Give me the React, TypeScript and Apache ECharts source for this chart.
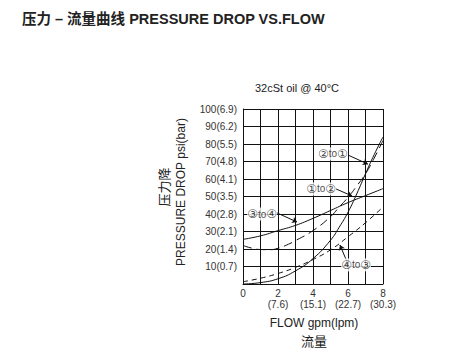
import React, { useEffect, useRef } from "react";
import * as echarts from "echarts";

const xTickLabels = ["0", "", "2\n(7.6)", "", "4\n(15.1)", "", "6\n(22.7)", "", "8\n(30.3)"];
const yTickLabels = ["", "10(0.7)", "20(1.4)", "30(2.1)", "40(2.8)", "50(3.5)", "60(4.1)", "70(4.8)", "80(5.5)", "90(6.2)", "100(6.9)"];

// flow (gpm), pressure drop (psi)
const curve3to4 = [[0, 25.5], [1, 27.5], [2, 30.5], [3, 33.5], [4, 37.5], [5, 42], [6, 46.5], [7, 50.5], [8, 54.5]];
const curve4to3 = [[0, 1.3], [1, 3.3], [2, 6], [3, 9.5], [4, 14], [5, 19.5], [6, 27], [7, 35], [8, 44]];
const curve1to2 = [[0, 22], [0.5, 20.5], [1, 19.7], [1.5, 19.6], [2, 20.4], [2.5, 22.3], [3, 24.8], [4, 30.5], [5, 38.5], [5.5, 44], [6, 49.5], [6.5, 56], [7, 63], [7.5, 72], [8, 82]];
const curve2to1 = [[0, 0], [1, 0.8], [2, 3], [3, 7.5], [4, 14.5], [5, 25], [5.5, 32.5], [6, 41], [6.5, 51.5], [7, 63], [7.5, 74], [8, 84]];

// annotation labels: [x, y, from, to]
const annLabels = [
  [5.14, 74.3, "②", "①"],
  [4.46, 54.3, "①", "②"],
  [1.09, 40, "③", "④"],
  [6.46, 10.9, "④", "③"],
];
// arrows: [fromX, fromY, toX, toY]
const annArrows = [
  [6.0, 73.7, 7.14, 68.5],
  [5.32, 54.3, 6.23, 50.3],
  [1.95, 40.6, 3.09, 35.4],
  [5.94, 12.8, 5.54, 22.3],
];

const FONT = "'Liberation Sans', Arial, 'Noto Sans CJK SC', sans-serif";

export default function App() {
  const ref = useRef<HTMLDivElement>(null);
  useEffect(() => {
    if (!ref.current) return;
    const chart = echarts.init(ref.current, null, { renderer: "svg" });
    const lineSeries = (data: number[][], type: any) => ({
      type: "line",
      data,
      smooth: true,
      showSymbol: false,
      symbol: "none",
      lineStyle: { color: "#111", width: 1, type },
      z: 3,
    });
    chart.setOption({
      animation: false,
      backgroundColor: "#fff",
      textStyle: { fontFamily: FONT },
      grid: { left: 243, top: 109, width: 140, height: 175, containLabel: false },
      xAxis: {
        type: "value",
        min: 0,
        max: 8,
        interval: 1,
        axisLine: { show: true, lineStyle: { color: "#111", width: 1 } },
        axisTick: { show: false },
        splitLine: { show: true, lineStyle: { color: "#111", width: 1 } },
        axisLabel: {
          margin: 4,
          fontSize: 10,
          lineHeight: 11,
          color: "#333",
          fontFamily: FONT,
          formatter: (v: number) => xTickLabels[Math.round(v)] ?? "",
        },
      },
      yAxis: {
        type: "value",
        min: 0,
        max: 100,
        interval: 10,
        axisLine: { show: true, lineStyle: { color: "#111", width: 1 } },
        axisTick: { show: false },
        splitLine: { show: true, lineStyle: { color: "#111", width: 1 } },
        axisLabel: {
          margin: 6,
          fontSize: 10,
          color: "#333",
          fontFamily: FONT,
          formatter: (v: number) => yTickLabels[Math.round(v / 10)] ?? "",
        },
      },
      series: [
        lineSeries(curve3to4, "solid"),
        lineSeries(curve4to3, [5, 4]),
        lineSeries(curve1to2, [9, 5]),
        lineSeries(curve2to1, "solid"),
        {
          type: "line",
          data: [],
          markLine: {
            silent: true,
            symbol: ["none", "arrow"],
            symbolSize: 5,
            label: { show: false },
            lineStyle: { color: "#111", width: 1, type: "solid" },
            data: annArrows.map((a) => [{ coord: [a[0], a[1]] }, { coord: [a[2], a[3]] }]),
          },
          z: 4,
        },
        {
          type: "scatter",
          data: annLabels,
          symbolSize: 0,
          z: 5,
          label: {
            show: true,
            position: "inside",
            formatter: (p: any) => `{c|${p.data[2]}}{t|to}{c|${p.data[3]}}`,
            backgroundColor: "#fff",
            padding: [0, 0],
            rich: {
              c: { fontFamily: "'DejaVu Sans', sans-serif", fontSize: 12, color: "#111", lineHeight: 13 },
              t: { fontFamily: FONT, fontSize: 10, color: "#111", lineHeight: 13 },
            },
          },
        },
      ],
      graphic: [
        {
          type: "text",
          left: 22,
          top: 12,
          style: { text: "压力 – 流量曲线 PRESSURE DROP VS.FLOW", font: `bold 14.5px ${FONT}`, fill: "#222" },
        },
        {
          type: "text",
          x: 297,
          y: 88,
          style: { text: "32cSt oil @ 40°C", font: `11px ${FONT}`, fill: "#222", align: "center", verticalAlign: "middle" },
        },
        {
          type: "text",
          x: 181,
          y: 192,
          rotation: Math.PI / 2,
          style: { text: "PRESSURE DROP psi(bar)", font: `12px ${FONT}`, fill: "#222", align: "center", verticalAlign: "middle" },
        },
        {
          type: "text",
          x: 164,
          y: 187,
          rotation: Math.PI / 2,
          style: { text: "压力降", font: `13px ${FONT}`, fill: "#222", align: "center", verticalAlign: "middle" },
        },
        {
          type: "text",
          x: 314,
          y: 323,
          style: { text: "FLOW gpm(lpm)", font: `12px ${FONT}`, fill: "#222", align: "center", verticalAlign: "middle" },
        },
        {
          type: "text",
          x: 314,
          y: 341,
          style: { text: "流量", font: `13px ${FONT}`, fill: "#222", align: "center", verticalAlign: "middle" },
        },
      ],
    });
    return () => chart.dispose();
  }, []);
  return <div ref={ref} style={{ position: "fixed", left: 0, top: 0, width: 455, height: 358 }} />;
}
